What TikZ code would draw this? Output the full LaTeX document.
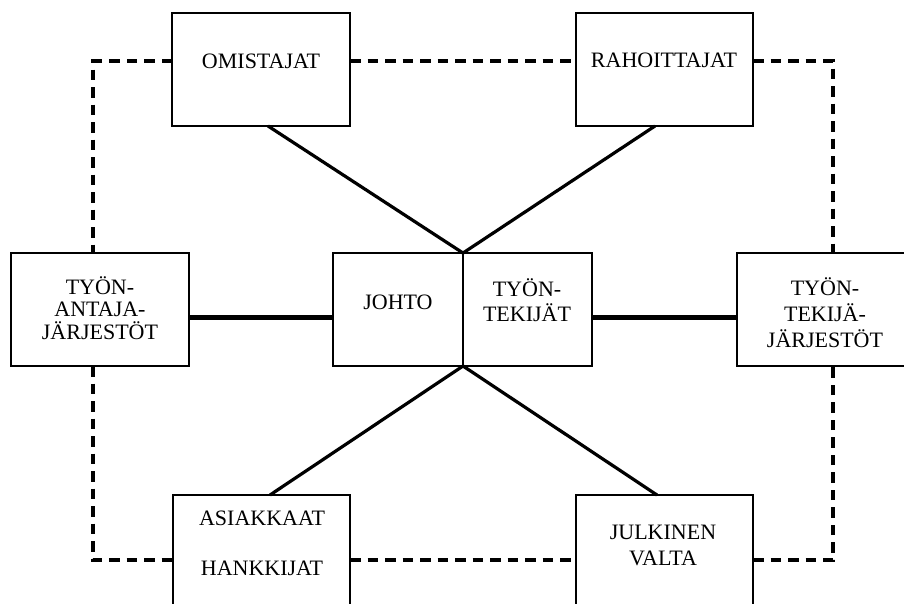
\documentclass[tikz,border=0pt]{standalone}
\usepackage{fontspec}
\setmainfont{Liberation Serif}

\begin{document}
\begin{tikzpicture}[x=1pt, y=-1pt,
    box/.style={draw, line width=1.4pt, inner sep=0pt, outer sep=0pt, minimum height=113pt},
    txt/.style={font=\fontsize{22}{24}\selectfont, align=center, inner sep=0pt},
    link/.style={line width=3.2pt},
    bar/.style={line width=4.8pt},
    dashlink/.style={line width=3.4pt, dash pattern=on 10.5pt off 7pt}]
    \useasboundingbox (0,0) rectangle (904,603);
    \clip (0,0) rectangle (904,603);

    \node[box, minimum width=178pt] (omist) at (261,69.5) {};
    \node[box, minimum width=177pt] (rahoit) at (664.5,69.5) {};
    \node[box, minimum width=178pt] (antaja) at (100,309.5) {};
    \node[box, minimum width=130pt] (johto) at (398,309.5) {};
    \node[box, minimum width=129pt] (tyontek) at (527.5,309.5) {};
    \node[box, minimum width=178pt] (tekija) at (826,309.5) {};
    \node[box, minimum width=177pt] (asiak) at (261.5,551.5) {};
    \node[box, minimum width=177pt] (julk) at (664.5,551.5) {};

    \node[txt] (omisttxt) at (261,61) {OMISTAJAT};
    \node[txt] (rahoittxt) at (664,60) {RAHOITTAJAT};
    \node[txt, font=\fontsize{22}{22.5}\selectfont] (antajatxt) at (100,308) {TYÖN-\\ANTAJA-\\JÄRJESTÖT};
    \node[txt] (johtotxt) at (398,302) {JOHTO};
    \node[txt, font=\fontsize{22}{25}\selectfont] (tyontektxt) at (527,300) {TYÖN-\\TEKIJÄT};
    \node[txt, font=\fontsize{22}{26}\selectfont] (tekijatxt) at (825,313) {TYÖN-\\TEKIJÄ-\\JÄRJESTÖT};
    \node[txt, font=\fontsize{22}{50}\selectfont] (asiaktxt) at (262,543) {ASIAKKAAT\\HANKKIJAT};
    \node[txt, font=\fontsize{22}{26}\selectfont] (julktxt) at (663,545) {JULKINEN\\VALTA};

    \coordinate (nw) at (93,61);
    \coordinate (ne) at (833,61);
    \coordinate (sw) at (93,560);
    \coordinate (se) at (833,560);

    \draw[dashlink] (omist.west |- nw) -- (nw) -- (nw |- antaja.north);
    \draw[dashlink] (omist.east |- nw) -- (rahoit.west |- nw);
    \draw[dashlink] (rahoit.east |- ne) -- (ne) -- (ne |- tekija.north);
    \draw[dashlink] (sw |- antaja.south) -- (sw) -- (asiak.west |- sw);
    \draw[dashlink] (asiak.east |- sw) -- (julk.west |- sw);
    \draw[dashlink] (julk.east |- se) -- (se) -- (se |- tekija.south);

    \draw[link] ([xshift=7pt]omist.south) -- (johto.north east);
    \draw[link] ([xshift=-9.5pt]rahoit.south) -- (johto.north east);
    \draw[link] ([xshift=8.5pt]asiak.north) -- (johto.south east);
    \draw[link] ([xshift=-7.5pt]julk.north) -- (johto.south east);

    \draw[bar] ([yshift=-8pt]antaja.east) -- ([yshift=-8pt]johto.west);
    \draw[bar] ([yshift=-8pt]tyontek.east) -- ([yshift=-8pt]tekija.west);
\end{tikzpicture}
\end{document}
